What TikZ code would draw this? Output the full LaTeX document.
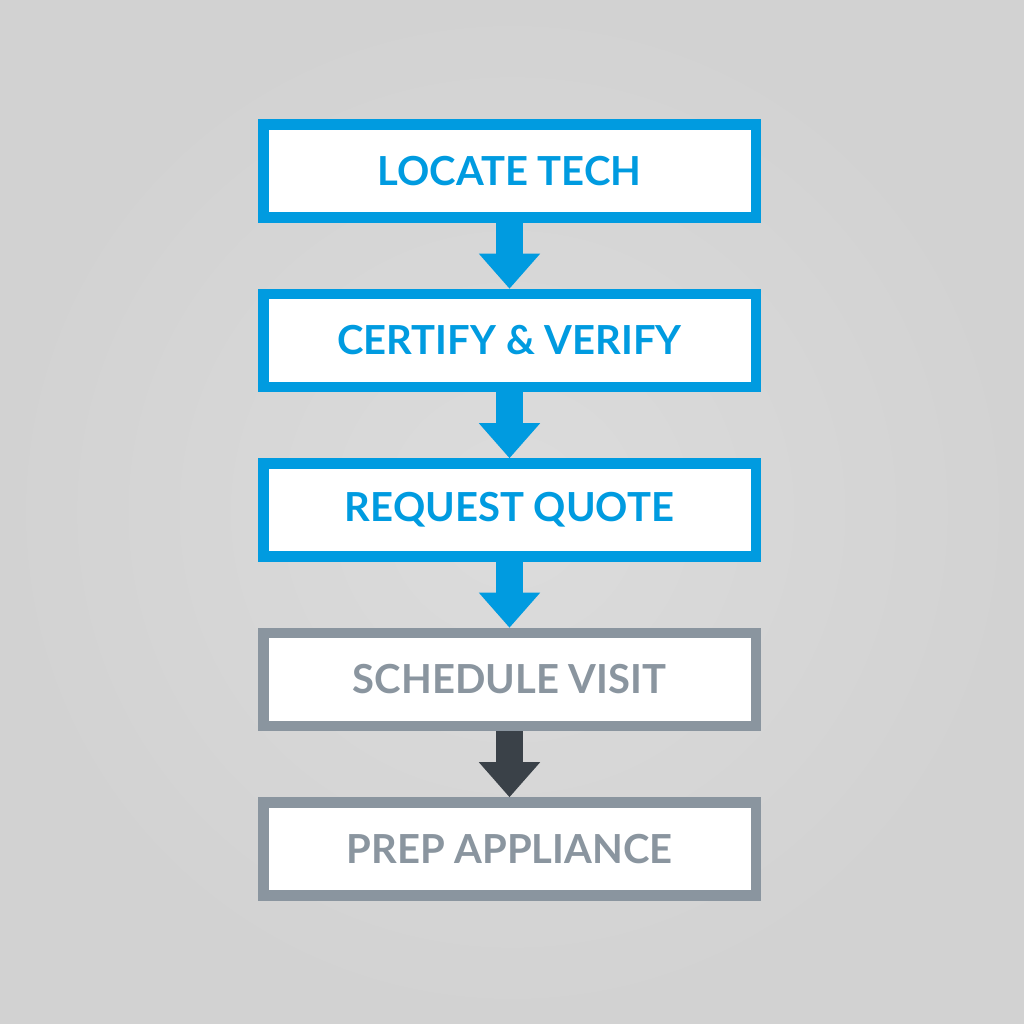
\documentclass[tikz,border=0pt]{standalone}
\usepackage{fontspec}
\setmainfont{Lato}
\usetikzlibrary{arrows.meta,positioning}

\definecolor{stepblue}{HTML}{009BE0}
\definecolor{stepgray}{HTML}{8A959F}
\definecolor{arrowdark}{HTML}{3A4148}
\definecolor{bgcenter}{HTML}{DCDCDC}
\definecolor{bgedge}{HTML}{D2D2D2}

\tikzset{
  stepbox/.style={draw=#1, line width=10.5pt, fill=white, text=#1,
    minimum width=492.5pt, minimum height=93pt, inner sep=0pt,
    font=\fontsize{40}{48}\selectfont\bfseries},
  flow/.style={draw=#1, line width=27pt, -{Triangle[width=59pt,length=35pt,fill=#1]}}
}

\begin{document}
\begin{tikzpicture}[x=1pt,y=1pt,node distance=66pt]
  \shade[inner color=bgcenter, outer color=bgedge] (0,0) rectangle (1024,1024);
  \useasboundingbox (0,0) rectangle (1024,1024);

  \node[stepbox=stepblue] (locate) at (509.5,853) {LOCATE TECH};
  \node[stepbox=stepblue, below=of locate] (certify) {CERTIFY \& VERIFY};
  \node[stepbox=stepblue, below=of certify] (quote) {REQUEST QUOTE};
  \node[stepbox=stepgray, below=of quote] (visit) {SCHEDULE VISIT};
  \node[stepbox=stepgray, below=of visit] (prep) {PREP APPLIANCE};

  \draw[flow=stepblue] (locate) -- (certify);
  \draw[flow=stepblue] (certify) -- (quote);
  \draw[flow=stepblue] (quote) -- (visit);
  \draw[flow=arrowdark] (visit) -- (prep);
\end{tikzpicture}
\end{document}
